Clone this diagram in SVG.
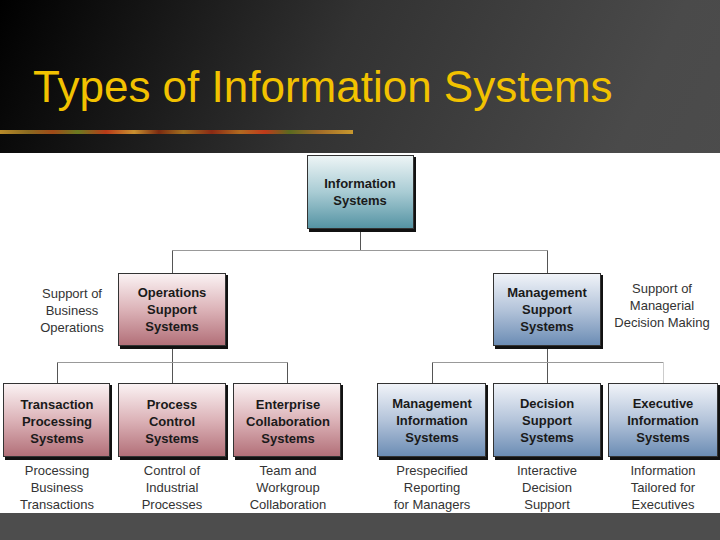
<svg xmlns="http://www.w3.org/2000/svg" width="720" height="540" viewBox="0 0 720 540">
<defs>
<linearGradient id="bg" x1="0" y1="0" x2="1" y2="0.35">
<stop offset="0" stop-color="#000"/>
<stop offset="0.45" stop-color="#323232"/>
<stop offset="0.85" stop-color="#4a4a4a"/>
<stop offset="1" stop-color="#4c4c4c"/>
</linearGradient>
<linearGradient id="strip" x1="0" y1="0" x2="1" y2="0">
<stop offset="0" stop-color="#b88a2a"/>
<stop offset="0.08" stop-color="#8a6a20"/>
<stop offset="0.15" stop-color="#a04a18"/>
<stop offset="0.22" stop-color="#6a7a20"/>
<stop offset="0.3" stop-color="#b83a18"/>
<stop offset="0.38" stop-color="#c89030"/>
<stop offset="0.45" stop-color="#7a2a10"/>
<stop offset="0.52" stop-color="#a07020"/>
<stop offset="0.6" stop-color="#8a2a14"/>
<stop offset="0.68" stop-color="#b06a20"/>
<stop offset="0.75" stop-color="#c03a1a"/>
<stop offset="0.82" stop-color="#5a6a20"/>
<stop offset="0.9" stop-color="#a06a28"/>
<stop offset="1" stop-color="#c8982e"/>
</linearGradient>
<linearGradient id="teal" x1="0" y1="0" x2="0" y2="1">
<stop offset="0" stop-color="#eef5f6"/>
<stop offset="0.5" stop-color="#a9ccd4"/>
<stop offset="1" stop-color="#5493a3"/>
</linearGradient>
<linearGradient id="red" x1="0" y1="0" x2="0" y2="1">
<stop offset="0" stop-color="#fbf3f4"/>
<stop offset="0.5" stop-color="#dcb3b8"/>
<stop offset="1" stop-color="#b26f78"/>
</linearGradient>
<linearGradient id="blue" x1="0" y1="0" x2="0" y2="1">
<stop offset="0" stop-color="#f1f4f9"/>
<stop offset="0.5" stop-color="#b4c4da"/>
<stop offset="1" stop-color="#6b8cb4"/>
</linearGradient>
<style>
.sh{fill:#111}
.bx{stroke:#333;stroke-width:1}
.bt{font-family:"Liberation Sans",Arial,sans-serif;font-weight:bold;font-size:13px;fill:#1a1a1a;text-anchor:middle}
.lt{font-family:"Liberation Sans",Arial,sans-serif;font-size:13px;fill:#333;text-anchor:middle}
.v{stroke:#555;stroke-width:1;fill:none}
.h{stroke:#999;stroke-width:1;fill:none}
</style>
</defs>
<rect x="0" y="0" width="720" height="540" fill="url(#bg)"/>
<rect x="0" y="513" width="720" height="27" fill="#4d4d4d"/>
<rect x="0" y="153" width="720" height="360" fill="#fff"/>
<text x="33" y="102" font-family="'Liberation Sans',Arial,sans-serif" font-size="44" fill="#f2c200">Types of Information Systems</text>
<rect x="0" y="130" width="353" height="4" fill="url(#strip)"/>

<g id="connectors">
<path class="v" d="M360.5 230V250.5"/>
<path class="h" d="M172.5 250.5H547.5"/>
<path class="v" d="M172.5 250.5V273M547.5 250.5V273"/>
<path class="v" d="M172.5 347V383"/>
<path class="h" d="M57.5 362.5H287.5"/>
<path class="v" d="M57.5 362.5V383M287.5 362.5V383"/>
<path class="v" d="M547.5 347V383"/>
<path class="h" d="M432.5 362.5H663.5"/>
<path class="v" d="M432.5 362.5V383"/>
<path d="M663.5 362.5V383" stroke="#ccc" stroke-width="1"/>
</g>

<g id="information-systems">
<rect class="sh" x="309" y="157" width="107" height="75"/>
<rect class="bx" x="307.5" y="155.5" width="106" height="73" fill="url(#teal)"/>
<text class="bt" x="360" y="188">Information</text>
<text class="bt" x="360" y="205">Systems</text>
</g>

<g id="operations-support">
<rect class="sh" x="120" y="275" width="108" height="74"/>
<rect class="bx" x="118.5" y="273.5" width="107" height="72" fill="url(#red)"/>
<text class="bt" x="172" y="297">Operations</text>
<text class="bt" x="172" y="314">Support</text>
<text class="bt" x="172" y="331">Systems</text>
</g>
<g id="label-operations">
<text class="lt" x="72" y="298">Support of</text>
<text class="lt" x="72" y="315">Business</text>
<text class="lt" x="72" y="332">Operations</text>
</g>

<g id="management-support">
<rect class="sh" x="495" y="275" width="108" height="74"/>
<rect class="bx" x="493.5" y="273.5" width="107" height="72" fill="url(#blue)"/>
<text class="bt" x="547" y="297">Management</text>
<text class="bt" x="547" y="314">Support</text>
<text class="bt" x="547" y="331">Systems</text>
</g>
<g id="label-management">
<text class="lt" x="662" y="293">Support of</text>
<text class="lt" x="662" y="310">Managerial</text>
<text class="lt" x="662" y="327">Decision Making</text>
</g>

<g id="tps">
<rect class="sh" x="5" y="385" width="107" height="75"/>
<rect class="bx" x="3.5" y="383.5" width="106" height="73" fill="url(#red)"/>
<text class="bt" x="57" y="409">Transaction</text>
<text class="bt" x="57" y="426">Processing</text>
<text class="bt" x="57" y="443">Systems</text>
<text class="lt" x="57" y="475">Processing</text>
<text class="lt" x="57" y="492">Business</text>
<text class="lt" x="57" y="509">Transactions</text>
</g>

<g id="pcs">
<rect class="sh" x="120" y="385" width="108" height="75"/>
<rect class="bx" x="118.5" y="383.5" width="107" height="73" fill="url(#red)"/>
<text class="bt" x="172" y="409">Process</text>
<text class="bt" x="172" y="426">Control</text>
<text class="bt" x="172" y="443">Systems</text>
<text class="lt" x="172" y="475">Control of</text>
<text class="lt" x="172" y="492">Industrial</text>
<text class="lt" x="172" y="509">Processes</text>
</g>

<g id="ecs">
<rect class="sh" x="235" y="385" width="108" height="75"/>
<rect class="bx" x="233.5" y="383.5" width="107" height="73" fill="url(#red)"/>
<text class="bt" x="288" y="409">Enterprise</text>
<text class="bt" x="288" y="426">Collaboration</text>
<text class="bt" x="288" y="443">Systems</text>
<text class="lt" x="288" y="475">Team and</text>
<text class="lt" x="288" y="492">Workgroup</text>
<text class="lt" x="288" y="509">Collaboration</text>
</g>

<g id="mis">
<rect class="sh" x="379" y="385" width="109" height="75"/>
<rect class="bx" x="377.5" y="383.5" width="108" height="73" fill="url(#blue)"/>
<text class="bt" x="432" y="408">Management</text>
<text class="bt" x="432" y="425">Information</text>
<text class="bt" x="432" y="442">Systems</text>
<text class="lt" x="432" y="475">Prespecified</text>
<text class="lt" x="432" y="492">Reporting</text>
<text class="lt" x="432" y="509">for Managers</text>
</g>

<g id="dss">
<rect class="sh" x="495" y="385" width="108" height="75"/>
<rect class="bx" x="493.5" y="383.5" width="107" height="73" fill="url(#blue)"/>
<text class="bt" x="547" y="408">Decision</text>
<text class="bt" x="547" y="425">Support</text>
<text class="bt" x="547" y="442">Systems</text>
<text class="lt" x="547" y="475">Interactive</text>
<text class="lt" x="547" y="492">Decision</text>
<text class="lt" x="547" y="509">Support</text>
</g>

<g id="eis">
<rect class="sh" x="610" y="385" width="110" height="75"/>
<rect class="bx" x="608.5" y="383.5" width="109" height="73" fill="url(#blue)"/>
<text class="bt" x="663" y="408">Executive</text>
<text class="bt" x="663" y="425">Information</text>
<text class="bt" x="663" y="442">Systems</text>
<text class="lt" x="663" y="475">Information</text>
<text class="lt" x="663" y="492">Tailored for</text>
<text class="lt" x="663" y="509">Executives</text>
</g>
</svg>
